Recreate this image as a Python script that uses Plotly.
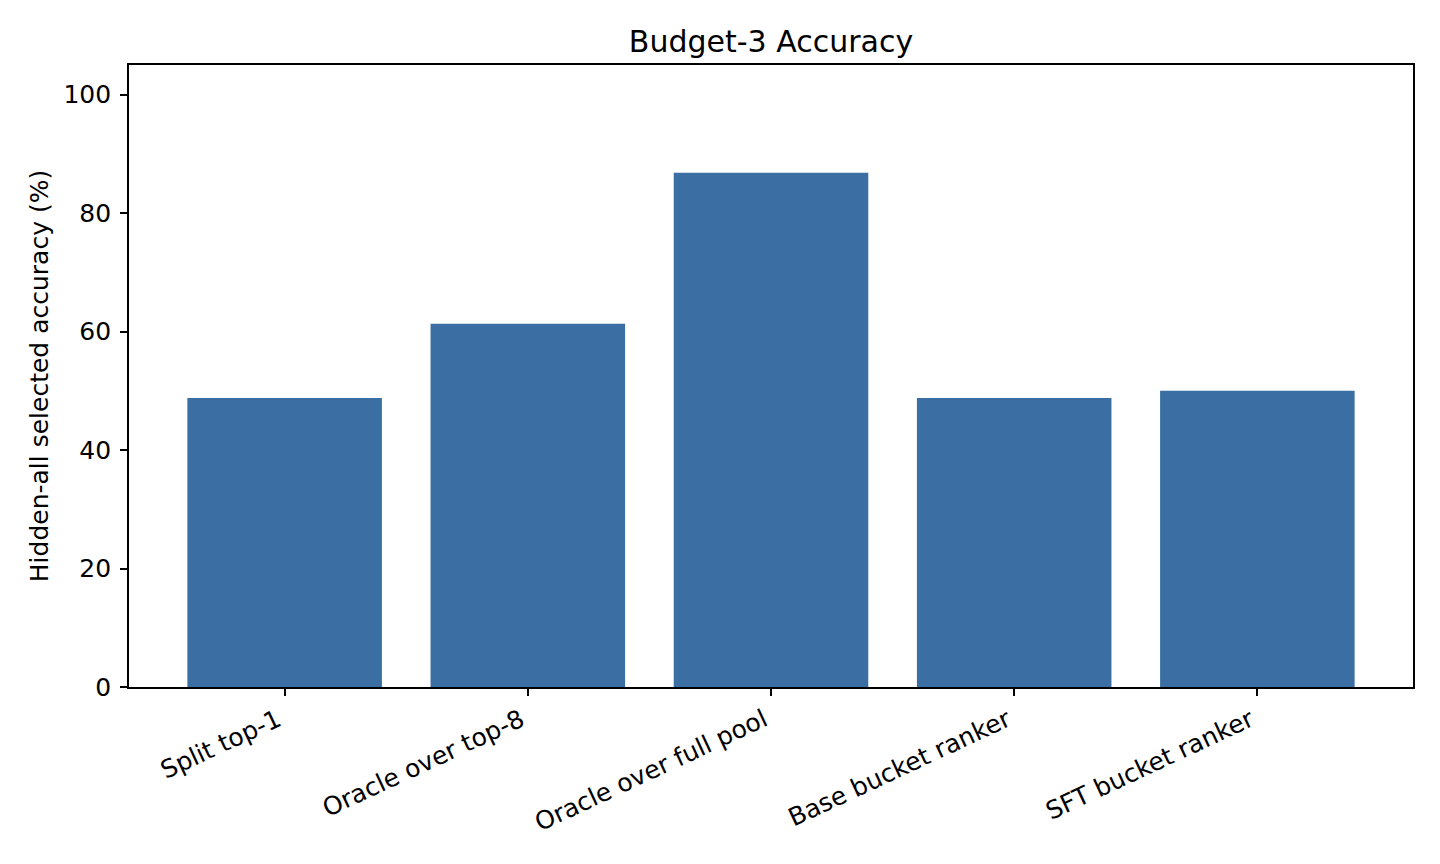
import plotly.graph_objs as go

# bar categories and accuracy values
methods = ["Split top-1", "Oracle over top-8", "Oracle over full pool",
           "Base bucket ranker", "SFT bucket ranker"]
accuracy = [48.8, 61.3, 86.8, 48.8, 50.0]
y_ticks = [0, 20, 40, 60, 80, 100]

font = "DejaVu Sans, Liberation Sans, sans-serif"

bars = go.Bar(x=list(range(len(methods))), y=accuracy,
              width=0.8,
              marker={"color": "#3b6fa3", "line": {"width": 0}})

# the page puts the plot 8px in from the corner, so margins allow for that
layout = go.Layout(
    width=1440, height=864,
    paper_bgcolor="white", plot_bgcolor="white",
    margin=dict(l=121, r=35, t=57, b=185),
    font=dict(family=font, size=25, color="black"),
    showlegend=False,
    title=dict(text="Budget-3 Accuracy", x=(129 + 1413) / 2 / 1440 - 8 / 1440,
               xanchor="center",
               y=1 - 33 / 864, yanchor="middle",
               font=dict(size=30, color="black")),
    xaxis=dict(
        range=[-0.64, 4.64],
        tickmode="array", tickvals=list(range(len(methods))), ticktext=methods,
        tickangle=-25,
        ticks="outside", ticklen=7, tickwidth=1.7, tickcolor="black",
        showline=True, linewidth=1.7, linecolor="black", mirror=True,
        showgrid=False, zeroline=False,
        ticklabelshift=-7,
        tickfont=dict(size=25),
    ),
    yaxis=dict(
        range=[0, 105],
        tickmode="array", tickvals=y_ticks,
        ticks="outside", ticklen=7, tickwidth=1.7, tickcolor="black",
        showline=True, linewidth=1.7, linecolor="black", mirror=True,
        showgrid=False, zeroline=False,
        ticklabelstandoff=4,
        tickfont=dict(size=25),
        title=dict(text="Hidden-all selected accuracy (%)", standoff=8,
                   font=dict(size=25)),
    ),
)

fig = go.Figure(data=[bars], layout=layout)
fig.write_html("out.html")
